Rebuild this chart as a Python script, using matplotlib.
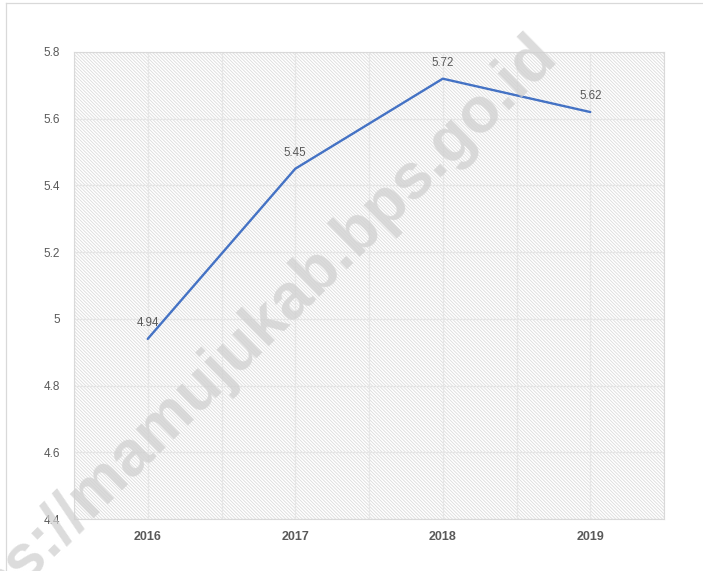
import matplotlib
matplotlib.use("Agg")
import matplotlib.pyplot as plt
from matplotlib.patches import Rectangle
from matplotlib.lines import Line2D
import numpy as np

years = ["2016", "2017", "2018", "2019"]
values = [4.94, 5.45, 5.72, 5.62]
value_labels = ["4.94", "5.45", "5.72", "5.62"]
yticks = [4.4, 4.6, 4.8, 5.0, 5.2, 5.4, 5.6, 5.8]
ytick_labels = ["4.4", "4.6", "4.8", "5", "5.2", "5.4", "5.6", "5.8"]
watermark = "https://mamujukab.bps.go.id"

plt.rcParams['font.family'] = ['Liberation Sans', 'DejaVu Sans']
plt.rcParams['hatch.color'] = '#dcdcdc'
plt.rcParams['hatch.linewidth'] = 0.6

fig = plt.figure(figsize=(7.03, 5.71), dpi=100)
ax = fig.add_axes([74/703, 1-519/571, (664-74)/703, (519-52)/571])

x = np.arange(len(years))
ax.set_xlim(-0.5, len(years)-0.5)
ax.set_ylim(4.4, 5.8)

# hatched background
bg = Rectangle((0, 0), 1, 1, transform=ax.transAxes, facecolor='white',
               edgecolor='#dcdcdc', hatch='\\' * 10, linewidth=0, zorder=0)
ax.add_patch(bg)

# gridlines
for v in yticks:
    ax.axhline(v, color='#e6e6e6', lw=0.9, zorder=1)
for xv in np.arange(-0.5, len(years), 0.5):
    ax.axvline(xv, color='#e6e6e6', lw=0.9, zorder=1)

ax.plot(x, values, color='#4472C4', lw=1.7, zorder=4, solid_capstyle='round')
for xi, v, lab in zip(x, values, value_labels):
    ax.annotate(lab, (xi, v), xytext=(0, 11.5), textcoords='offset points',
                ha='center', va='center', fontsize=8.3, color='#595959', zorder=5)

ax.set_xticks(x)
ax.set_xticklabels(years, fontsize=9, fontweight='bold', color='#595959')
ax.set_yticks(yticks)
ax.set_yticklabels(ytick_labels, fontsize=8.5, color='#595959')
ax.tick_params(length=0, pad=9)
ax.tick_params(axis='y', pad=10)
for s in ax.spines.values():
    s.set_color('#d9d9d9')
    s.set_linewidth(0.8)

# figure border
fig.add_artist(Line2D([6/703, 6/703], [0, 1-3/571], color='#d9d9d9', lw=0.9))
fig.add_artist(Line2D([6/703, 1], [1-3/571, 1-3/571], color='#d9d9d9', lw=0.9))

# watermark
fig.text(526/703, 1-24/571, watermark, rotation=44.5, rotation_mode='anchor',
         ha='right', va='top', fontsize=46, fontweight='bold',
         color='#d0d0d0', alpha=0.75, zorder=3)

fig.savefig("out.png", dpi=100)
